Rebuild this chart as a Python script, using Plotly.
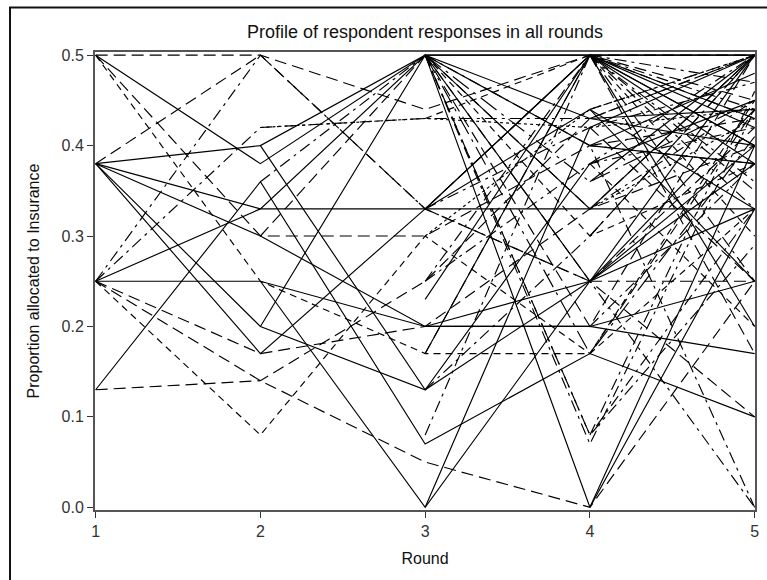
import plotly.graph_objects as go

# Rounds of the allocation game
rounds = [1, 2, 3, 4, 5]

# Proportion allocated to insurance per respondent, one list per round
# (None = no response recorded for that round)
round1 = [0.50, 0.50, 0.50, 0.50, 0.38, 0.38, 0.38, 0.38, 0.38, 0.38,
          0.25, 0.25, 0.25, 0.25, 0.25, 0.25, 0.25, 0.13, 0.13,
          None, None, None, None, None, None,
          None, None, None, None, None, None, None, None, None, None,
          None, None, None, None, None, None, None, None, None, None, None,
          None, None, None, None, None, None, None, None, None, None,
          None, None, None, None, None, None, None, None, None, None,
          None, None, None, None, None, None, None, None, None, None]
round2 = [0.50, 0.38, 0.30, 0.25, 0.50, 0.40, 0.33, 0.30, 0.17, 0.20,
          0.25, 0.50, 0.33, 0.17, 0.14, 0.08, 0.42, 0.14, 0.36,
          0.42, 0.25, 0.40, 0.20, 0.36, 0.30,
          None, None, None, None, None, None, None, None, None, None,
          None, None, None, None, None, None, None, None, None, None, None,
          None, None, None, None, None, None, None, None, None, None,
          None, None, None, None, None, None, None, None, None, None,
          None, None, None, None, None, None, None, None, None, None]
round3 = [0.44, 0.50, 0.30, 0.17, 0.33, 0.50, 0.33, 0.20, 0.33, 0.13,
          0.20, 0.33, 0.50, 0.20, 0.05, 0.30, 0.43, 0.25, 0.07,
          0.43, 0.00, 0.13, 0.50, 0.50, 0.50,
          0.50, 0.50, 0.50, 0.50, 0.33, 0.33, 0.00, 0.08, 0.23, 0.25,
          0.30, 0.50, 0.43, 0.50, 0.50, 0.33, 0.17, 0.50, 0.13, 0.20, 0.50,
          None, None, None, None, None, None, None, None, None, None,
          None, None, None, None, None, None, None, None, None, None,
          0.25, 0.17, 0.50, 0.50, 0.33, None, None, None, None, None]
round4 = [0.50, 0.25, 0.40, 0.17, 0.50, 0.43, 0.33, 0.20, 0.50, 0.25,
          0.20, 0.25, 0.50, 0.33, 0.00, 0.17, 0.43, 0.43, 0.17,
          0.42, 0.25, 0.38, 0.40, 0.08, 0.33,
          0.50, 0.00, 0.25, 0.07, 0.50, 0.25, 0.42, 0.50, 0.50, 0.38,
          0.44, 0.17, 0.50, 0.33, 0.40, 0.44, 0.50, 0.36, 0.30, 0.25, 0.30,
          0.50, 0.50, 0.50, 0.50, 0.44, 0.40, 0.36, 0.33, 0.25, 0.25,
          0.20, 0.08, 0.00, 0.42, 0.38, 0.30, 0.44, 0.50, 0.17, 0.40,
          0.50, 0.50, 0.08, 0.20, 0.42, 0.50, 0.43, 0.38, 0.50, 0.33]
round5 = [0.45, 0.40, 0.38, 0.33, 0.50, 0.44, 0.33, 0.25, 0.50, 0.38,
          0.17, 0.00, 0.42, 0.40, 0.25, 0.45, 0.50, 0.50, 0.10,
          0.44, 0.33, 0.45, 0.38, 0.29, 0.50,
          0.50, 0.33, 0.10, 0.44, 0.40, 0.25, 0.50, 0.36, 0.43, 0.42,
          0.50, 0.41, 0.30, 0.50, 0.00, 0.25, 0.17, 0.45, 0.50, 0.44, 0.38,
          0.38, 0.25, 0.20, 0.43, 0.50, 0.43, 0.50, 0.45, 0.50, 0.42,
          0.38, 0.46, 0.40, 0.25, 0.20, 0.50, 0.33, 0.33, 0.44, 0.48,
          0.44, 0.40, 0.33, 0.50, 0.47, 0.47, 0.40, 0.50, 0.35, 0.43]

# Line patterns per respondent, in the style of a monochrome profile plot
SOLID = "solid"
LDASH = "12px,6px"
DASH = "7px,5px"
DDOT = "12px,5px,3px,5px"
LDDOT = "20px,6px,3px,6px"
DOT = "3px,3px"
line_styles = [LDASH, SOLID, LDASH, DASH, LDASH, SOLID, SOLID, SOLID, SOLID, SOLID,
               SOLID, DDOT, SOLID, LDASH, LDASH, DASH, DDOT, LDASH, SOLID,
               DOT, SOLID, SOLID, SOLID, DDOT, LDASH,
               SOLID, SOLID, LDASH, DDOT, SOLID, LDASH, SOLID, DDOT, SOLID, DDOT,
               DOT, LDDOT, DASH, SOLID, DDOT, SOLID, LDASH, LDDOT, DDOT, SOLID, DASH,
               SOLID, DDOT, SOLID, LDASH, DDOT, LDASH, SOLID, DDOT, SOLID, LDASH,
               DDOT, DDOT, SOLID, LDASH, DASH, LDDOT, SOLID, DDOT, LDASH, SOLID,
               DDOT, SOLID, DDOT, LDASH, DDOT, DDOT, SOLID, DDOT, LDASH, DOT]

fig = go.Figure()
for i in range(len(round1)):
    values = [round1[i], round2[i], round3[i], round4[i], round5[i]]
    fig.add_trace(go.Scatter(
        x=rounds, y=values, mode="lines",
        line=dict(color="#000000", width=1.15, dash=line_styles[i]),
        connectgaps=False, showlegend=False, hoverinfo="skip",
    ))

FONT = "Liberation Sans, Arial, sans-serif"

fig.update_layout(
    width=767, height=580,
    margin=dict(l=95, r=8, t=52, b=70),
    paper_bgcolor="white", plot_bgcolor="white",
    font=dict(family=FONT, size=16, color="#222222"),
    title=dict(text="Profile of respondent responses in all rounds",
               x=0.5, xref="paper", xanchor="center",
               y=1 - 32 / 580, yanchor="middle",
               font=dict(family=FONT, size=18, color="#111111")),
    xaxis=dict(
        range=[0.996, 5.002], tickmode="array", tickvals=rounds,
        ticktext=[str(r) for r in rounds],
        showgrid=False, zeroline=False,
        showline=True, mirror=True, linecolor="#555555", linewidth=2,
        ticks="outside", ticklen=6, tickcolor="#333333",
        tickfont=dict(size=16, color="#333333"),
        title=dict(text="Round", font=dict(size=16, color="#111111"), standoff=14),
    ),
    yaxis=dict(
        range=[-0.003, 0.5035], tickmode="array",
        tickvals=[0.0, 0.1, 0.2, 0.3, 0.4, 0.5],
        ticktext=["0.0", "0.1", "0.2", "0.3", "0.4", "0.5"],
        showgrid=False, zeroline=False,
        showline=True, mirror=True, linecolor="#555555", linewidth=2,
        ticks="outside", ticklen=6, tickcolor="#333333",
        tickfont=dict(size=16, color="#333333"),
        title=dict(text="Proportion allocated to Insurance",
                   font=dict(size=16, color="#111111"), standoff=18),
    ),
)

# Outer frame around the whole graphic (open on the right and bottom edges)
pw = 767 - 95 - 8
ph = 580 - 52 - 70
fig.add_shape(type="rect", xref="paper", yref="paper",
              x0=(9.5 - 95) / pw, x1=1 + (780 - 759) / pw,
              y0=-(600 - 510) / ph, y1=1 + (52 - 7.5) / ph,
              line=dict(color="#111111", width=2), layer="below")

fig.write_html("out.html")
